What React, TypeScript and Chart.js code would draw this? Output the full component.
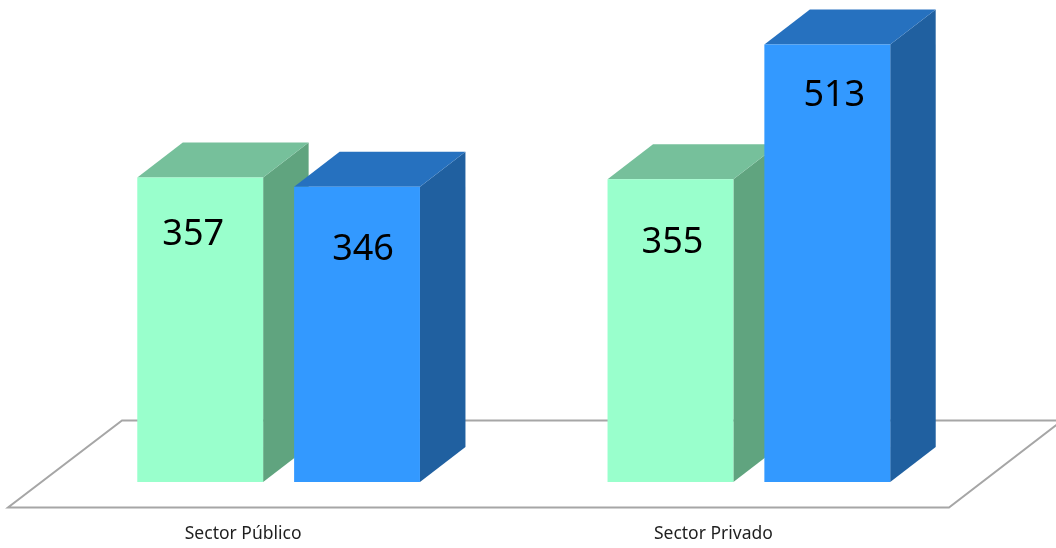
import { useEffect, useRef } from "react";
import { Chart, registerables } from "chart.js";

Chart.register(...registerables);

const categories = ["Sector Público", "Sector Privado"];
const seriesA = [357, 355];
const seriesB = [346, 513];

const DEPTH_X = 45.5;
const DEPTH_Y = 35;
const FRONT = ["#99FFCC", "#3399FF"];
const SIDE = ["#60A47F", "#2060A0"];
const TOP = ["#76C09B", "#2671BF"];
const LABEL_NUDGE = [
  [[-7, 57], [2, 64]],
  [[6, 63], [7, 51]],
];

const poly = (ctx: CanvasRenderingContext2D, pts: number[][], fill: string) => {
  ctx.beginPath();
  pts.forEach(([x, y], i) => (i ? ctx.lineTo(x, y) : ctx.moveTo(x, y)));
  ctx.closePath();
  ctx.fillStyle = fill;
  ctx.fill();
};

const box3d = {
  id: "box3d",
  beforeDatasetsDraw(chart: any) {
    const { ctx, width } = chart;
    ctx.save();
    ctx.strokeStyle = "#A6A6A6";
    ctx.lineWidth = 2;
    ctx.beginPath();
    ctx.moveTo(width, 420.5);
    ctx.lineTo(122, 420.5);
    ctx.lineTo(8, 507.5);
    ctx.lineTo(949, 507.5);
    ctx.lineTo(width + 8, 419);
    ctx.stroke();
    [0, 1].forEach((i) => {
      [0, 1].forEach((d) => {
        const b = chart.getDatasetMeta(d).data[i];
        const l = b.x - b.width / 2;
        const r = b.x + b.width / 2;
        poly(ctx, [[r, b.y], [r + DEPTH_X, b.y - DEPTH_Y], [r + DEPTH_X, b.base - DEPTH_Y], [r, b.base]], SIDE[d]);
        poly(ctx, [[l, b.y], [l + DEPTH_X, b.y - DEPTH_Y], [r + DEPTH_X, b.y - DEPTH_Y], [r, b.y]], TOP[d]);
      });
    });
    ctx.restore();
  },
  afterDatasetsDraw(chart: any) {
    const { ctx } = chart;
    ctx.save();
    ctx.font = '36px "Noto Sans"';
    ctx.fillStyle = "#000000";
    ctx.textAlign = "center";
    ctx.textBaseline = "middle";
    [0, 1].forEach((d) => {
      const ds = chart.data.datasets[d];
      chart.getDatasetMeta(d).data.forEach((b: any, i: number) => {
        const [nx, ny] = LABEL_NUDGE[d][i];
        ctx.fillText(String(ds.data[i]), b.x + nx, b.y + ny);
      });
    });
    ctx.restore();
  },
};

export default function App() {
  const ref = useRef<HTMLCanvasElement>(null);
  useEffect(() => {
    document.body.style.margin = "0";
    document.body.style.background = "#ffffff";
    const chart = new Chart(ref.current!, {
      type: "bar",
      data: {
        labels: categories,
        datasets: [
          { label: "A", data: seriesA, backgroundColor: FRONT[0] },
          { label: "B", data: seriesB, backgroundColor: FRONT[1] },
        ],
      },
      options: {
        responsive: false,
        animation: false,
        layout: { padding: { left: 43.5, right: 72, top: 12, bottom: 0 } },
        plugins: { legend: { display: false }, tooltip: { enabled: false } },
        datasets: { bar: { categoryPercentage: 0.667, barPercentage: 0.8025 } },
        scales: {
          y: { display: false, min: 0, max: 551 },
          x: {
            afterFit(s: any) {
              s.height = 66;
            },
            grid: { display: false },
            border: { display: false },
            ticks: {
              labelOffset: -35.5,
              padding: 34,
              maxRotation: 0,
              color: "#1F1F1F",
              font: { family: "Noto Sans", size: 17.5 },
            },
          },
        },
      } as any,
      plugins: [box3d],
    });
    return () => chart.destroy();
  }, []);
  return <canvas ref={ref} width={1056} height={548} style={{ display: "block" }} />;
}
